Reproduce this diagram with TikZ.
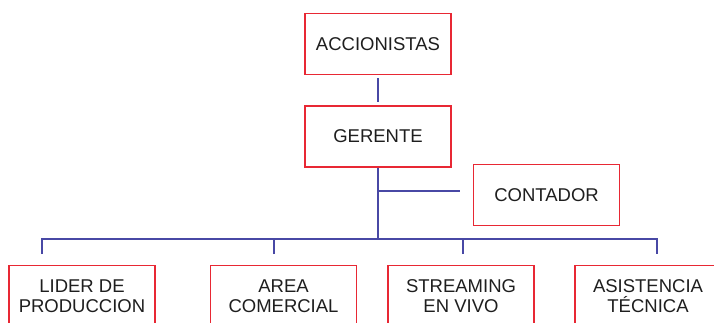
\documentclass[tikz,border=0pt]{standalone}
\usepackage{fontspec}
\setmainfont{Liberation Sans}
\usetikzlibrary{positioning}
\definecolor{boxred}{RGB}{232,40,52}
\definecolor{lineblue}{RGB}{72,72,165}
\definecolor{textgray}{RGB}{30,30,30}
\tikzset{font=\fontsize{18.5}{20.5}\selectfont}
\tikzset{cargo/.style={draw=boxred,line width=1.5pt,text=textgray,align=center,
  minimum width=146pt,minimum height=61pt,inner sep=0pt}}
\tikzset{enlace/.style={draw=lineblue,line width=1.2pt}}

\begin{document}
\begin{tikzpicture}[x=1pt,y=-1pt]
\useasboundingbox (0,0) rectangle (714,323);
\node[cargo] (acc) at (378,44) {ACCIONISTAS};
\node[cargo] (ger) at (378,136.5) {GERENTE};
\node[cargo] (con) at (546.5,195) {CONTADOR};
\node[cargo] (lid) at (82,296) {LIDER DE\\PRODUCCION};
\node[cargo] (are) at (283.5,296) {AREA\\COMERCIAL};
\node[cargo] (str) at (461,296) {STREAMING\\EN VIVO};
\node[cargo] (asi) at (648,296) {ASISTENCIA\\TÉCNICA};
\coordinate (bus) at (378,239);
\coordinate (ramal) at (378,191);
\draw[enlace,shorten <=3pt,shorten >=3pt] (acc) -- (ger);
\draw[enlace] (ger) -- (bus);
\draw[enlace,shorten >=13pt] (ramal) -- (ramal -| con.west);
\coordinate (b1) at (42,254);
\coordinate (b2) at (274,254);
\coordinate (b3) at (463,254);
\coordinate (b4) at (657,254);
\draw[enlace] (b1) |- (bus) -| (b4);
\foreach \b in {b2,b3}
  \draw[enlace] (\b) -- (\b |- bus);
\end{tikzpicture}
\end{document}
